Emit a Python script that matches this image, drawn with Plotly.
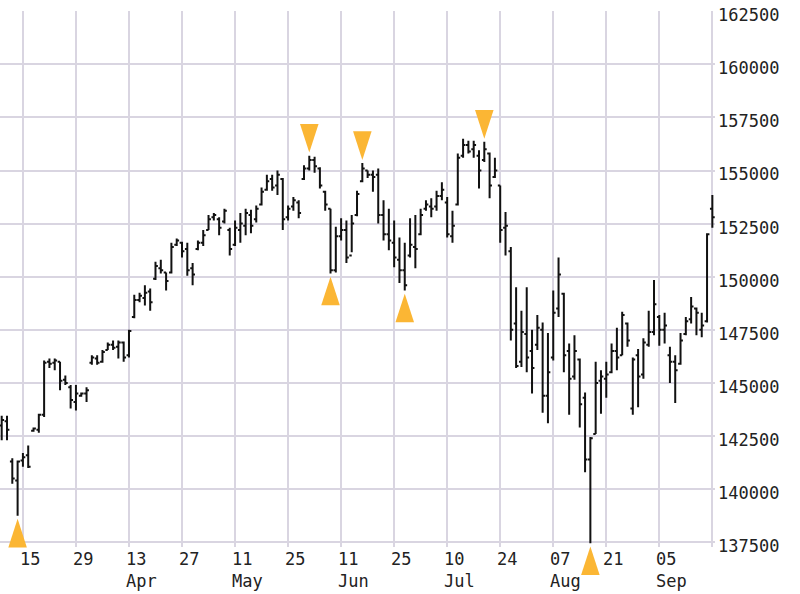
import plotly.graph_objects as go

# ---- data (trading-day index, OHLC) ----
opens = [143000,143200,141300,140400,141350,141600,142750,142800,143500,146000,
         145950,146000,145150,144800,144100,144400,144500,145950,146150,146000,
         146550,146800,146700,146900,146300,148100,148900,149000,149300,149900,
         150400,150200,150200,151500,151600,151300,150400,151300,151600,152200,
         152800,152700,152600,152200,151500,152200,152400,152900,152700,153400,
         154100,154600,154300,154600,152800,153300,153500,154600,155100,155500,
         155100,154000,153200,150300,151900,152200,151000,152900,154500,155000,
         154800,154800,152900,152000,151600,150800,150300,151000,151400,152000,
         153200,153300,153300,153800,153500,151900,153400,155700,156200,156000,
         155700,155500,155800,154700,154300,152300,151200,147800,146000,147300,
         146500,146800,147500,144400,146200,148500,149200,146500,145300,146100,
         144300,141400,142600,145100,145200,145500,146500,146300,147800,143800,
         146300,145400,146800,147400,148100,147500,146300,146000,145900,147300,
         148000,148500,147500,147900,153200]
highs = [143450,143450,141450,141350,141700,142050,142900,143550,146050,146150,
         146150,146000,145350,144900,144900,144550,144800,146300,146300,146550,
         146900,147000,147000,146950,147500,149150,149250,149600,149450,150700,
         150800,150200,151600,151800,151650,151600,150650,151700,152200,152900,
         153000,152800,153200,152300,152650,153000,153200,153150,153350,154200,
         154800,154800,155000,154650,153350,153750,153600,155250,155700,155650,
         155150,154050,153200,152350,152750,152650,152900,154050,155350,155000,
         155000,155100,153600,153200,152650,151850,151600,152750,152900,153200,
         153600,153700,154050,154450,153750,153100,155800,156500,156400,156400,
         155950,156350,155850,155600,154300,153050,151400,149500,148400,149500,
         147500,148200,147850,147350,149350,150900,149250,146850,147250,146150,
         144550,142450,146000,145600,146000,146850,147600,148350,147850,146200,
         146600,147100,148400,149850,148200,148300,146700,146300,147350,148100,
         149050,148550,148300,152050,153850]
lows = [142300,142300,140250,138750,141050,141000,142700,142650,143400,145700,
        145600,144650,144900,143800,143700,144350,144100,145850,145850,145950,
        146550,146550,146150,146000,146200,148050,148800,148650,148400,149850,
        150150,149350,150150,151450,150900,150050,149600,151250,151450,152200,
        152650,151950,152500,151000,151450,151600,151950,152050,152550,153350,
        154050,154050,153850,152200,152650,153100,152750,154550,155000,154900,
        154150,153100,150150,150200,151700,150650,151150,152850,154450,154650,
        154000,152500,151700,151250,150450,149700,149350,150900,150400,151950,
        153100,152800,153100,153600,151850,151600,153350,155600,155800,155600,
        154150,155400,153700,154650,151600,151000,147000,145700,145750,145500,
        144500,146550,143600,143100,146050,148100,145500,143500,145150,142900,
        140800,137450,142600,143550,144300,145450,145600,146300,146700,143500,
        143850,145200,146700,147250,146750,146850,145000,144050,145850,147250,
        147800,147250,147150,147850,152300]
closes = [143250,142800,140500,141300,141500,141050,142850,143500,145950,145900,
          146050,145100,145000,144200,144500,144500,144650,146200,145950,146450,
          146800,146650,146900,146200,147450,148900,149100,149250,148800,150500,
          150300,149800,151400,151700,151200,150300,150100,151600,151950,152700,
          152900,152300,153100,151300,152300,152500,153000,152400,153200,154000,
          154500,154200,154800,152700,153200,153600,153000,155100,155500,155200,
          154300,153400,150300,151900,152200,150900,152500,153900,155100,154800,
          154700,152900,152000,151700,150900,150300,149600,151500,151300,152900,
          153400,153200,153800,154100,152000,152400,155600,156200,155900,156200,
          155000,156000,154300,155000,152200,152400,147500,145800,147400,146200,
          145700,147600,144400,145500,148300,150100,146300,145200,146500,144000,
          141400,142400,145000,145300,145400,146500,146200,148200,147000,146100,
          145300,146900,147400,148700,147500,147700,146000,145600,147000,147900,
          148600,148300,147700,152000,152800]
days = list(range(len(closes)))

tick_days = [4, 14, 24, 34, 44, 54, 64, 74, 84, 94, 104, 114, 124]
tick_day_text = ["15", "29", "13", "27", "11", "25", "11", "25", "10", "24", "07", "21", "05"]
tick_month_text = ["", "", "Apr", "", "May", "", "Jun", "", "Jul", "", "Aug", "", "Sep"]

peak_days = [58, 68, 91]
trough_days = [3, 62, 76, 111]

FONT = "DejaVu Sans Mono"
GRID = "#d9d5e1"
ARROW = "#fbb634"
TXT = "#222222"

fig = go.Figure()
fig.add_trace(go.Ohlc(
    x=days, open=opens, high=highs, low=lows, close=closes,
    increasing=dict(line=dict(color="#111111", width=2)),
    decreasing=dict(line=dict(color="#111111", width=2)),
    tickwidth=0.45, showlegend=False, hoverinfo="skip"))

# turning-point arrows: tip a few pixels beyond the bar's high / low
fig.add_trace(go.Scatter(
    x=peak_days, y=[highs[i] + 150 for i in peak_days], mode="markers",
    marker=dict(symbol="arrow", angle=180, size=30, color=ARROW, line=dict(width=0)),
    cliponaxis=False, showlegend=False, hoverinfo="skip"))
fig.add_trace(go.Scatter(
    x=trough_days, y=[lows[i] - 150 for i in trough_days], mode="markers",
    marker=dict(symbol="arrow", angle=0, size=30, color=ARROW, line=dict(width=0)),
    cliponaxis=False, showlegend=False, hoverinfo="skip"))

for d, t, m in zip(tick_days, tick_day_text, tick_month_text):
    fig.add_annotation(x=d, y=0, xref="x", yref="paper",
                       text=t + ("<br>" + m if m else ""), showarrow=False,
                       xanchor="left", yanchor="top", align="left",
                       xshift=-5, yshift=0,
                       font=dict(family=FONT, size=17, color=TXT))

fig.update_layout(
    width=800, height=594,
    margin=dict(l=0, r=85, t=11, b=47),
    paper_bgcolor="white", plot_bgcolor="white",
    font=dict(family=FONT, size=17, color=TXT),
    xaxis=dict(range=[-0.32, 134.5], tick0=4, dtick=10, showticklabels=False,
               showgrid=True, gridcolor=GRID, gridwidth=1.5, zeroline=False,
               rangeslider=dict(visible=False), fixedrange=True),
    yaxis=dict(side="right", range=[137275, 162510], dtick=2500, tick0=137500,
               tickformat="d", showgrid=True, gridcolor=GRID, gridwidth=1.5,
               zeroline=False, ticks="", ticklabelstandoff=2, ticklabelshift=4,
               tickfont=dict(family=FONT, size=17, color=TXT)),
)

fig.write_html("out.html")
